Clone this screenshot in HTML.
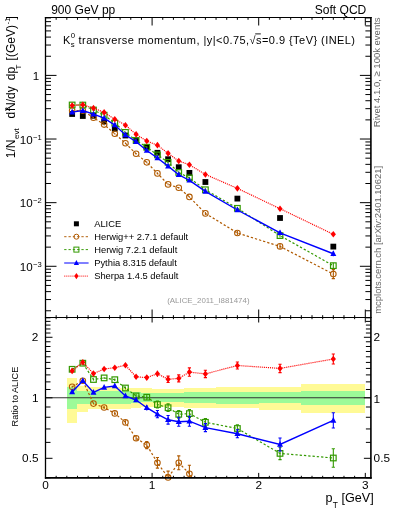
<!DOCTYPE html><html><head><meta charset="utf-8"><style>html,body{margin:0;padding:0;background:#fff;width:393px;height:512px;overflow:hidden}svg{display:block;will-change:transform}text{font-family:"Liberation Sans",sans-serif}</style></head><body>
<svg width="393" height="512" viewBox="0 0 393 512">
<defs><clipPath id="cm"><rect x="45.50" y="17.50" width="325.40" height="300.00"/></clipPath>
<clipPath id="cr"><rect x="45.50" y="317.50" width="325.40" height="160.40"/></clipPath></defs>
<g clip-path="url(#cr)">
<path d="M66.82,377.80 H77.48 V422.70 H66.82 Z M77.48,386.00 H88.14 V411.50 H77.48 Z M88.14,387.40 H98.80 V409.40 H88.14 Z M98.80,387.40 H109.46 V409.40 H98.80 Z M109.46,387.40 H120.12 V409.40 H109.46 Z M120.12,387.60 H130.78 V409.00 H120.12 Z M130.78,388.20 H141.44 V407.80 H130.78 Z M141.44,388.40 H152.10 V407.20 H141.44 Z M152.10,388.60 H162.76 V406.60 H152.10 Z M162.76,388.60 H173.42 V406.60 H162.76 Z M173.42,388.60 H184.08 V406.60 H173.42 Z M184.08,387.60 H194.74 V407.60 H184.08 Z M194.74,388.40 H216.06 V407.60 H194.74 Z M216.06,387.20 H258.70 V408.20 H216.06 Z M258.70,387.40 H301.34 V410.00 H258.70 Z M301.34,383.70 H365.30 V413.30 H301.34 Z " fill="#fffa96" shape-rendering="crispEdges"/>
<path d="M66.82,386.70 H77.48 V409.40 H66.82 Z M77.48,390.80 H88.14 V404.20 H77.48 Z M88.14,391.00 H98.80 V404.00 H88.14 Z M98.80,391.00 H109.46 V404.00 H98.80 Z M109.46,391.00 H120.12 V404.00 H109.46 Z M120.12,391.20 H130.78 V403.80 H120.12 Z M130.78,392.20 H141.44 V402.80 H130.78 Z M141.44,392.60 H152.10 V402.40 H141.44 Z M152.10,392.80 H162.76 V402.00 H152.10 Z M162.76,392.80 H173.42 V402.00 H162.76 Z M173.42,392.80 H184.08 V402.00 H173.42 Z M184.08,392.20 H194.74 V402.80 H184.08 Z M194.74,392.20 H216.06 V403.00 H194.74 Z M216.06,392.00 H258.70 V404.00 H216.06 Z M258.70,391.60 H301.34 V403.20 H258.70 Z M301.34,390.70 H365.30 V404.90 H301.34 Z " fill="#9cfa98" shape-rendering="crispEdges"/>
<line x1="45.50" y1="397.8" x2="370.90" y2="397.8" stroke="#333" stroke-width="1.1"/>
</g>
<rect x="69.25" y="111.10" width="5.8" height="5.8" fill="#000"/>
<rect x="79.91" y="113.10" width="5.8" height="5.8" fill="#000"/>
<rect x="90.57" y="112.90" width="5.8" height="5.8" fill="#000"/>
<rect x="101.23" y="118.60" width="5.8" height="5.8" fill="#000"/>
<rect x="111.89" y="125.90" width="5.8" height="5.8" fill="#000"/>
<rect x="122.55" y="132.60" width="5.8" height="5.8" fill="#000"/>
<rect x="133.21" y="138.10" width="5.8" height="5.8" fill="#000"/>
<rect x="143.87" y="144.50" width="5.8" height="5.8" fill="#000"/>
<rect x="154.53" y="149.90" width="5.8" height="5.8" fill="#000"/>
<rect x="165.19" y="156.30" width="5.8" height="5.8" fill="#000"/>
<rect x="175.85" y="164.30" width="5.8" height="5.8" fill="#000"/>
<rect x="186.51" y="170.00" width="5.8" height="5.8" fill="#000"/>
<rect x="202.50" y="179.10" width="5.8" height="5.8" fill="#000"/>
<rect x="234.48" y="195.70" width="5.8" height="5.8" fill="#000"/>
<rect x="277.12" y="215.10" width="5.8" height="5.8" fill="#000"/>
<rect x="330.42" y="243.70" width="5.8" height="5.8" fill="#000"/>
<path d="M72.15,110.52 L82.81,110.59 L93.47,117.64 L104.13,124.57 L114.79,133.74 L125.45,143.29 L136.11,153.79 L146.77,162.37 L157.43,173.38 L168.09,184.40 L178.75,187.78 L189.41,196.93 L205.40,213.40 L237.38,233.00 L280.02,246.40 L333.32,274.10" fill="none" stroke="#b05a00" stroke-width="1.20" stroke-dasharray="2.3,2" clip-path="url(#cm)"/>
<path d="M72.15,109.72 V111.32" stroke="#b05a00" stroke-width="1.10" fill="none"/>
<circle cx="72.15" cy="110.52" r="2.8" fill="none" stroke="#b05a00" stroke-width="1.05"/>
<path d="M82.81,109.79 V111.39" stroke="#b05a00" stroke-width="1.10" fill="none"/>
<circle cx="82.81" cy="110.59" r="2.8" fill="none" stroke="#b05a00" stroke-width="1.05"/>
<path d="M93.47,116.84 V118.44" stroke="#b05a00" stroke-width="1.10" fill="none"/>
<circle cx="93.47" cy="117.64" r="2.8" fill="none" stroke="#b05a00" stroke-width="1.05"/>
<path d="M104.13,123.77 V125.37" stroke="#b05a00" stroke-width="1.10" fill="none"/>
<circle cx="104.13" cy="124.57" r="2.8" fill="none" stroke="#b05a00" stroke-width="1.05"/>
<path d="M114.79,132.94 V134.54" stroke="#b05a00" stroke-width="1.10" fill="none"/>
<circle cx="114.79" cy="133.74" r="2.8" fill="none" stroke="#b05a00" stroke-width="1.05"/>
<path d="M125.45,142.49 V144.09" stroke="#b05a00" stroke-width="1.10" fill="none"/>
<circle cx="125.45" cy="143.29" r="2.8" fill="none" stroke="#b05a00" stroke-width="1.05"/>
<path d="M136.11,152.99 V154.59" stroke="#b05a00" stroke-width="1.10" fill="none"/>
<circle cx="136.11" cy="153.79" r="2.8" fill="none" stroke="#b05a00" stroke-width="1.05"/>
<path d="M146.77,161.57 V163.17" stroke="#b05a00" stroke-width="1.10" fill="none"/>
<circle cx="146.77" cy="162.37" r="2.8" fill="none" stroke="#b05a00" stroke-width="1.05"/>
<path d="M157.43,172.58 V174.18" stroke="#b05a00" stroke-width="1.10" fill="none"/>
<circle cx="157.43" cy="173.38" r="2.8" fill="none" stroke="#b05a00" stroke-width="1.05"/>
<path d="M168.09,183.60 V185.20" stroke="#b05a00" stroke-width="1.10" fill="none"/>
<circle cx="168.09" cy="184.40" r="2.8" fill="none" stroke="#b05a00" stroke-width="1.05"/>
<path d="M178.75,186.98 V188.58" stroke="#b05a00" stroke-width="1.10" fill="none"/>
<circle cx="178.75" cy="187.78" r="2.8" fill="none" stroke="#b05a00" stroke-width="1.05"/>
<path d="M189.41,196.13 V197.73" stroke="#b05a00" stroke-width="1.10" fill="none"/>
<circle cx="189.41" cy="196.93" r="2.8" fill="none" stroke="#b05a00" stroke-width="1.05"/>
<path d="M205.40,211.90 V214.90" stroke="#b05a00" stroke-width="1.10" fill="none"/>
<circle cx="205.40" cy="213.40" r="2.8" fill="none" stroke="#b05a00" stroke-width="1.05"/>
<path d="M237.38,231.00 V235.00" stroke="#b05a00" stroke-width="1.10" fill="none"/>
<circle cx="237.38" cy="233.00" r="2.8" fill="none" stroke="#b05a00" stroke-width="1.05"/>
<path d="M280.02,243.90 V248.90" stroke="#b05a00" stroke-width="1.10" fill="none"/>
<circle cx="280.02" cy="246.40" r="2.8" fill="none" stroke="#b05a00" stroke-width="1.05"/>
<path d="M333.32,269.60 V278.60 M331.72,269.60 H334.92 M331.72,278.60 H334.92" stroke="#b05a00" stroke-width="1.10" fill="none"/>
<circle cx="333.32" cy="274.10" r="2.8" fill="none" stroke="#b05a00" stroke-width="1.05"/>
<path d="M72.15,104.98 L82.81,105.05 L93.47,110.01 L104.13,115.20 L114.79,123.07 L125.45,132.40 L136.11,140.40 L146.77,147.21 L157.43,154.92 L168.09,162.33 L178.75,172.42 L189.41,177.90 L205.40,189.76 L237.38,208.32 L280.02,235.60 L333.32,265.66" fill="none" stroke="#339900" stroke-width="1.20" stroke-dasharray="2.3,2" clip-path="url(#cm)"/>
<path d="M72.15,104.66 V105.29" stroke="#339900" stroke-width="1.10" fill="none"/>
<rect x="69.35" y="102.18" width="5.6" height="5.6" fill="none" stroke="#339900" stroke-width="1.2"/>
<path d="M82.81,104.73 V105.36" stroke="#339900" stroke-width="1.10" fill="none"/>
<rect x="80.01" y="102.25" width="5.6" height="5.6" fill="none" stroke="#339900" stroke-width="1.2"/>
<path d="M93.47,109.69 V110.32" stroke="#339900" stroke-width="1.10" fill="none"/>
<rect x="90.67" y="107.21" width="5.6" height="5.6" fill="none" stroke="#339900" stroke-width="1.2"/>
<path d="M104.13,114.88 V115.52" stroke="#339900" stroke-width="1.10" fill="none"/>
<rect x="101.33" y="112.40" width="5.6" height="5.6" fill="none" stroke="#339900" stroke-width="1.2"/>
<path d="M114.79,122.69 V123.45" stroke="#339900" stroke-width="1.10" fill="none"/>
<rect x="111.99" y="120.27" width="5.6" height="5.6" fill="none" stroke="#339900" stroke-width="1.2"/>
<path d="M125.45,131.95 V132.84" stroke="#339900" stroke-width="1.10" fill="none"/>
<rect x="122.65" y="129.60" width="5.6" height="5.6" fill="none" stroke="#339900" stroke-width="1.2"/>
<path d="M136.11,139.83 V140.97" stroke="#339900" stroke-width="1.10" fill="none"/>
<rect x="133.31" y="137.60" width="5.6" height="5.6" fill="none" stroke="#339900" stroke-width="1.2"/>
<path d="M146.77,146.36 V148.06" stroke="#339900" stroke-width="1.10" fill="none"/>
<rect x="143.97" y="144.41" width="5.6" height="5.6" fill="none" stroke="#339900" stroke-width="1.2"/>
<path d="M157.43,153.81 V156.03" stroke="#339900" stroke-width="1.10" fill="none"/>
<rect x="154.63" y="152.12" width="5.6" height="5.6" fill="none" stroke="#339900" stroke-width="1.2"/>
<path d="M168.09,161.13 V163.54" stroke="#339900" stroke-width="1.10" fill="none"/>
<rect x="165.29" y="159.53" width="5.6" height="5.6" fill="none" stroke="#339900" stroke-width="1.2"/>
<path d="M178.75,171.22 V173.63" stroke="#339900" stroke-width="1.10" fill="none"/>
<rect x="175.95" y="169.62" width="5.6" height="5.6" fill="none" stroke="#339900" stroke-width="1.2"/>
<path d="M189.41,176.64 V179.17" stroke="#339900" stroke-width="1.10" fill="none"/>
<rect x="186.61" y="175.10" width="5.6" height="5.6" fill="none" stroke="#339900" stroke-width="1.2"/>
<path d="M205.40,188.55 V190.96" stroke="#339900" stroke-width="1.10" fill="none"/>
<rect x="202.60" y="186.96" width="5.6" height="5.6" fill="none" stroke="#339900" stroke-width="1.2"/>
<path d="M237.38,207.12 V209.52" stroke="#339900" stroke-width="1.10" fill="none"/>
<rect x="234.58" y="205.52" width="5.6" height="5.6" fill="none" stroke="#339900" stroke-width="1.2"/>
<path d="M280.02,233.64 V237.56" stroke="#339900" stroke-width="1.10" fill="none"/>
<rect x="277.22" y="232.80" width="5.6" height="5.6" fill="none" stroke="#339900" stroke-width="1.2"/>
<path d="M333.32,262.71 V268.60" stroke="#339900" stroke-width="1.10" fill="none"/>
<rect x="330.52" y="262.86" width="5.6" height="5.6" fill="none" stroke="#339900" stroke-width="1.2"/>
<path d="M72.15,112.13 L82.81,110.59 L93.47,114.09 L104.13,118.21 L114.79,125.06 L125.45,134.90 L136.11,141.70 L146.77,150.53 L157.43,157.96 L168.09,166.16 L178.75,174.77 L189.41,180.31 L205.40,191.43 L237.38,210.00 L280.02,232.78 L333.32,253.75" fill="none" stroke="#0000ff" stroke-width="1.40" clip-path="url(#cm)"/>
<path d="M72.15,111.82 V112.45" stroke="#0000ff" stroke-width="1.10" fill="none"/>
<path d="M72.15,108.73 L75.15,114.43 L69.15,114.43 Z" fill="#0000ff"/>
<path d="M82.81,110.27 V110.90" stroke="#0000ff" stroke-width="1.10" fill="none"/>
<path d="M82.81,107.19 L85.81,112.89 L79.81,112.89 Z" fill="#0000ff"/>
<path d="M93.47,113.77 V114.41" stroke="#0000ff" stroke-width="1.10" fill="none"/>
<path d="M93.47,110.69 L96.47,116.39 L90.47,116.39 Z" fill="#0000ff"/>
<path d="M104.13,117.89 V118.52" stroke="#0000ff" stroke-width="1.10" fill="none"/>
<path d="M104.13,114.81 L107.13,120.51 L101.13,120.51 Z" fill="#0000ff"/>
<path d="M114.79,124.68 V125.44" stroke="#0000ff" stroke-width="1.10" fill="none"/>
<path d="M114.79,121.66 L117.79,127.36 L111.79,127.36 Z" fill="#0000ff"/>
<path d="M125.45,134.46 V135.34" stroke="#0000ff" stroke-width="1.10" fill="none"/>
<path d="M125.45,131.50 L128.45,137.20 L122.45,137.20 Z" fill="#0000ff"/>
<path d="M136.11,141.13 V142.27" stroke="#0000ff" stroke-width="1.10" fill="none"/>
<path d="M136.11,138.30 L139.11,144.00 L133.11,144.00 Z" fill="#0000ff"/>
<path d="M146.77,149.68 V151.39" stroke="#0000ff" stroke-width="1.10" fill="none"/>
<path d="M146.77,147.13 L149.77,152.83 L143.77,152.83 Z" fill="#0000ff"/>
<path d="M157.43,156.82 V159.10" stroke="#0000ff" stroke-width="1.10" fill="none"/>
<path d="M157.43,154.56 L160.43,160.26 L154.43,160.26 Z" fill="#0000ff"/>
<path d="M168.09,164.80 V167.53" stroke="#0000ff" stroke-width="1.10" fill="none"/>
<path d="M168.09,162.76 L171.09,168.46 L165.09,168.46 Z" fill="#0000ff"/>
<path d="M178.75,173.34 V176.19" stroke="#0000ff" stroke-width="1.10" fill="none"/>
<path d="M178.75,171.37 L181.75,177.07 L175.75,177.07 Z" fill="#0000ff"/>
<path d="M189.41,178.72 V181.89" stroke="#0000ff" stroke-width="1.10" fill="none"/>
<path d="M189.41,176.91 L192.41,182.61 L186.41,182.61 Z" fill="#0000ff"/>
<path d="M205.40,190.17 V192.70" stroke="#0000ff" stroke-width="1.10" fill="none"/>
<path d="M205.40,188.03 L208.40,193.73 L202.40,193.73 Z" fill="#0000ff"/>
<path d="M237.38,208.73 V211.26" stroke="#0000ff" stroke-width="1.10" fill="none"/>
<path d="M237.38,206.60 L240.38,212.30 L234.38,212.30 Z" fill="#0000ff"/>
<path d="M280.02,230.73 V234.84" stroke="#0000ff" stroke-width="1.10" fill="none"/>
<path d="M280.02,229.38 L283.02,235.08 L277.02,235.08 Z" fill="#0000ff"/>
<path d="M333.32,251.35 V256.16" stroke="#0000ff" stroke-width="1.10" fill="none"/>
<path d="M333.32,250.35 L336.32,256.05 L330.32,256.05 Z" fill="#0000ff"/>
<path d="M72.15,105.48 L82.81,104.73 L93.47,108.14 L104.13,112.38 L114.79,119.27 L125.45,125.21 L136.11,134.35 L146.77,141.01 L157.43,145.17 L168.09,153.34 L178.75,161.06 L189.41,164.76 L205.40,174.43 L237.38,188.37 L280.02,208.69 L333.32,234.32" fill="none" stroke="#ff0000" stroke-width="1.20" stroke-dasharray="1.1,0.95" clip-path="url(#cm)"/>
<path d="M72.15,105.17 V105.80" stroke="#ff0000" stroke-width="1.10" fill="none"/>
<path d="M72.15,102.18 L74.75,105.48 L72.15,108.78 L69.55,105.48 Z" fill="#ff0000"/>
<path d="M82.81,104.41 V105.05" stroke="#ff0000" stroke-width="1.10" fill="none"/>
<path d="M82.81,101.43 L85.41,104.73 L82.81,108.03 L80.21,104.73 Z" fill="#ff0000"/>
<path d="M93.47,107.82 V108.46" stroke="#ff0000" stroke-width="1.10" fill="none"/>
<path d="M93.47,104.84 L96.07,108.14 L93.47,111.44 L90.87,108.14 Z" fill="#ff0000"/>
<path d="M104.13,112.07 V112.70" stroke="#ff0000" stroke-width="1.10" fill="none"/>
<path d="M104.13,109.08 L106.73,112.38 L104.13,115.68 L101.53,112.38 Z" fill="#ff0000"/>
<path d="M114.79,118.89 V119.65" stroke="#ff0000" stroke-width="1.10" fill="none"/>
<path d="M114.79,115.97 L117.39,119.27 L114.79,122.57 L112.19,119.27 Z" fill="#ff0000"/>
<path d="M125.45,124.77 V125.65" stroke="#ff0000" stroke-width="1.10" fill="none"/>
<path d="M125.45,121.91 L128.05,125.21 L125.45,128.51 L122.85,125.21 Z" fill="#ff0000"/>
<path d="M136.11,133.78 V134.92" stroke="#ff0000" stroke-width="1.10" fill="none"/>
<path d="M136.11,131.05 L138.71,134.35 L136.11,137.65 L133.51,134.35 Z" fill="#ff0000"/>
<path d="M146.77,140.25 V141.77" stroke="#ff0000" stroke-width="1.10" fill="none"/>
<path d="M146.77,137.71 L149.37,141.01 L146.77,144.31 L144.17,141.01 Z" fill="#ff0000"/>
<path d="M157.43,144.22 V146.12" stroke="#ff0000" stroke-width="1.10" fill="none"/>
<path d="M157.43,141.87 L160.03,145.17 L157.43,148.47 L154.83,145.17 Z" fill="#ff0000"/>
<path d="M168.09,152.33 V154.36" stroke="#ff0000" stroke-width="1.10" fill="none"/>
<path d="M168.09,150.04 L170.69,153.34 L168.09,156.64 L165.49,153.34 Z" fill="#ff0000"/>
<path d="M178.75,159.95 V162.17" stroke="#ff0000" stroke-width="1.10" fill="none"/>
<path d="M178.75,157.76 L181.35,161.06 L178.75,164.36 L176.15,161.06 Z" fill="#ff0000"/>
<path d="M189.41,163.43 V166.09" stroke="#ff0000" stroke-width="1.10" fill="none"/>
<path d="M189.41,161.46 L192.01,164.76 L189.41,168.06 L186.81,164.76 Z" fill="#ff0000"/>
<path d="M205.40,173.26 V175.61" stroke="#ff0000" stroke-width="1.10" fill="none"/>
<path d="M205.40,171.13 L208.00,174.43 L205.40,177.73 L202.80,174.43 Z" fill="#ff0000"/>
<path d="M237.38,187.27 V189.48" stroke="#ff0000" stroke-width="1.10" fill="none"/>
<path d="M237.38,185.07 L239.98,188.37 L237.38,191.67 L234.78,188.37 Z" fill="#ff0000"/>
<path d="M280.02,207.36 V210.02" stroke="#ff0000" stroke-width="1.10" fill="none"/>
<path d="M280.02,205.39 L282.62,208.69 L280.02,211.99 L277.42,208.69 Z" fill="#ff0000"/>
<path d="M333.32,232.73 V235.90" stroke="#ff0000" stroke-width="1.10" fill="none"/>
<path d="M333.32,231.02 L335.92,234.32 L333.32,237.62 L330.72,234.32 Z" fill="#ff0000"/>
<path d="M72.15,386.80 L82.81,380.70 L93.47,403.60 L104.13,407.50 L114.79,413.40 L125.45,422.40 L136.11,438.20 L146.77,445.10 L157.43,462.80 L168.09,477.40 L178.75,462.80 L189.41,473.70 L205.40,496.70" fill="none" stroke="#b05a00" stroke-width="1.20" stroke-dasharray="2.3,2" clip-path="url(#cr)"/>
<path d="M72.15,385.80 V387.80" stroke="#b05a00" stroke-width="1.10" fill="none" clip-path="url(#cr)"/>
<circle cx="72.15" cy="386.80" r="2.8" fill="none" stroke="#b05a00" stroke-width="1.05"/>
<path d="M82.81,379.70 V381.70" stroke="#b05a00" stroke-width="1.10" fill="none" clip-path="url(#cr)"/>
<circle cx="82.81" cy="380.70" r="2.8" fill="none" stroke="#b05a00" stroke-width="1.05"/>
<path d="M93.47,402.60 V404.60" stroke="#b05a00" stroke-width="1.10" fill="none" clip-path="url(#cr)"/>
<circle cx="93.47" cy="403.60" r="2.8" fill="none" stroke="#b05a00" stroke-width="1.05"/>
<path d="M104.13,406.10 V408.90" stroke="#b05a00" stroke-width="1.10" fill="none" clip-path="url(#cr)"/>
<circle cx="104.13" cy="407.50" r="2.8" fill="none" stroke="#b05a00" stroke-width="1.05"/>
<path d="M114.79,411.60 V415.20" stroke="#b05a00" stroke-width="1.10" fill="none" clip-path="url(#cr)"/>
<circle cx="114.79" cy="413.40" r="2.8" fill="none" stroke="#b05a00" stroke-width="1.05"/>
<path d="M125.45,420.20 V424.60" stroke="#b05a00" stroke-width="1.10" fill="none" clip-path="url(#cr)"/>
<circle cx="125.45" cy="422.40" r="2.8" fill="none" stroke="#b05a00" stroke-width="1.05"/>
<path d="M136.11,435.60 V440.80" stroke="#b05a00" stroke-width="1.10" fill="none" clip-path="url(#cr)"/>
<circle cx="136.11" cy="438.20" r="2.8" fill="none" stroke="#b05a00" stroke-width="1.05"/>
<path d="M146.77,441.60 V448.60 M145.17,441.60 H148.37 M145.17,448.60 H148.37" stroke="#b05a00" stroke-width="1.10" fill="none" clip-path="url(#cr)"/>
<circle cx="146.77" cy="445.10" r="2.8" fill="none" stroke="#b05a00" stroke-width="1.05"/>
<path d="M157.43,457.50 V468.10 M155.83,457.50 H159.03 M155.83,468.10 H159.03" stroke="#b05a00" stroke-width="1.10" fill="none" clip-path="url(#cr)"/>
<circle cx="157.43" cy="462.80" r="2.8" fill="none" stroke="#b05a00" stroke-width="1.05"/>
<path d="M168.09,471.10 V483.70 M166.49,471.10 H169.69 M166.49,483.70 H169.69" stroke="#b05a00" stroke-width="1.10" fill="none" clip-path="url(#cr)"/>
<circle cx="168.09" cy="477.40" r="2.8" fill="none" stroke="#b05a00" stroke-width="1.05"/>
<path d="M178.75,455.90 V469.70 M177.15,455.90 H180.35 M177.15,469.70 H180.35" stroke="#b05a00" stroke-width="1.10" fill="none" clip-path="url(#cr)"/>
<circle cx="178.75" cy="462.80" r="2.8" fill="none" stroke="#b05a00" stroke-width="1.05"/>
<path d="M189.41,465.20 V482.20 M187.81,465.20 H191.01 M187.81,482.20 H191.01" stroke="#b05a00" stroke-width="1.10" fill="none" clip-path="url(#cr)"/>
<circle cx="189.41" cy="473.70" r="2.8" fill="none" stroke="#b05a00" stroke-width="1.05"/>
<path d="M72.15,369.30 L82.81,363.20 L93.47,379.50 L104.13,377.90 L114.79,379.70 L125.45,388.00 L136.11,395.90 L146.77,397.20 L157.43,404.50 L168.09,407.70 L178.75,414.30 L189.41,413.60 L205.40,422.30 L237.38,428.50 L280.02,453.40 L333.32,458.00" fill="none" stroke="#339900" stroke-width="1.20" stroke-dasharray="2.3,2" clip-path="url(#cr)"/>
<path d="M72.15,368.30 V370.30" stroke="#339900" stroke-width="1.10" fill="none" clip-path="url(#cr)"/>
<rect x="69.35" y="366.50" width="5.6" height="5.6" fill="none" stroke="#339900" stroke-width="1.2"/>
<path d="M82.81,362.20 V364.20" stroke="#339900" stroke-width="1.10" fill="none" clip-path="url(#cr)"/>
<rect x="80.01" y="360.40" width="5.6" height="5.6" fill="none" stroke="#339900" stroke-width="1.2"/>
<path d="M93.47,378.50 V380.50" stroke="#339900" stroke-width="1.10" fill="none" clip-path="url(#cr)"/>
<rect x="90.67" y="376.70" width="5.6" height="5.6" fill="none" stroke="#339900" stroke-width="1.2"/>
<path d="M104.13,376.90 V378.90" stroke="#339900" stroke-width="1.10" fill="none" clip-path="url(#cr)"/>
<rect x="101.33" y="375.10" width="5.6" height="5.6" fill="none" stroke="#339900" stroke-width="1.2"/>
<path d="M114.79,378.50 V380.90" stroke="#339900" stroke-width="1.10" fill="none" clip-path="url(#cr)"/>
<rect x="111.99" y="376.90" width="5.6" height="5.6" fill="none" stroke="#339900" stroke-width="1.2"/>
<path d="M125.45,386.60 V389.40" stroke="#339900" stroke-width="1.10" fill="none" clip-path="url(#cr)"/>
<rect x="122.65" y="385.20" width="5.6" height="5.6" fill="none" stroke="#339900" stroke-width="1.2"/>
<path d="M136.11,394.10 V397.70" stroke="#339900" stroke-width="1.10" fill="none" clip-path="url(#cr)"/>
<rect x="133.31" y="393.10" width="5.6" height="5.6" fill="none" stroke="#339900" stroke-width="1.2"/>
<path d="M146.77,394.50 V399.90" stroke="#339900" stroke-width="1.10" fill="none" clip-path="url(#cr)"/>
<rect x="143.97" y="394.40" width="5.6" height="5.6" fill="none" stroke="#339900" stroke-width="1.2"/>
<path d="M157.43,401.00 V408.00 M155.83,401.00 H159.03 M155.83,408.00 H159.03" stroke="#339900" stroke-width="1.10" fill="none" clip-path="url(#cr)"/>
<rect x="154.63" y="401.70" width="5.6" height="5.6" fill="none" stroke="#339900" stroke-width="1.2"/>
<path d="M168.09,403.90 V411.50 M166.49,403.90 H169.69 M166.49,411.50 H169.69" stroke="#339900" stroke-width="1.10" fill="none" clip-path="url(#cr)"/>
<rect x="165.29" y="404.90" width="5.6" height="5.6" fill="none" stroke="#339900" stroke-width="1.2"/>
<path d="M178.75,410.50 V418.10 M177.15,410.50 H180.35 M177.15,418.10 H180.35" stroke="#339900" stroke-width="1.10" fill="none" clip-path="url(#cr)"/>
<rect x="175.95" y="411.50" width="5.6" height="5.6" fill="none" stroke="#339900" stroke-width="1.2"/>
<path d="M189.41,409.60 V417.60 M187.81,409.60 H191.01 M187.81,417.60 H191.01" stroke="#339900" stroke-width="1.10" fill="none" clip-path="url(#cr)"/>
<rect x="186.61" y="410.80" width="5.6" height="5.6" fill="none" stroke="#339900" stroke-width="1.2"/>
<path d="M205.40,418.50 V426.10 M203.80,418.50 H207.00 M203.80,426.10 H207.00" stroke="#339900" stroke-width="1.10" fill="none" clip-path="url(#cr)"/>
<rect x="202.60" y="419.50" width="5.6" height="5.6" fill="none" stroke="#339900" stroke-width="1.2"/>
<path d="M237.38,424.70 V432.30 M235.78,424.70 H238.98 M235.78,432.30 H238.98" stroke="#339900" stroke-width="1.10" fill="none" clip-path="url(#cr)"/>
<rect x="234.58" y="425.70" width="5.6" height="5.6" fill="none" stroke="#339900" stroke-width="1.2"/>
<path d="M280.02,447.20 V459.60 M278.42,447.20 H281.62 M278.42,459.60 H281.62" stroke="#339900" stroke-width="1.10" fill="none" clip-path="url(#cr)"/>
<rect x="277.22" y="450.60" width="5.6" height="5.6" fill="none" stroke="#339900" stroke-width="1.2"/>
<path d="M333.32,448.70 V467.30 M331.72,448.70 H334.92 M331.72,467.30 H334.92" stroke="#339900" stroke-width="1.10" fill="none" clip-path="url(#cr)"/>
<rect x="330.52" y="455.20" width="5.6" height="5.6" fill="none" stroke="#339900" stroke-width="1.2"/>
<path d="M72.15,391.90 L82.81,380.70 L93.47,392.40 L104.13,387.40 L114.79,386.00 L125.45,395.90 L136.11,400.00 L146.77,407.70 L157.43,414.10 L168.09,419.80 L178.75,421.70 L189.41,421.20 L205.40,427.60 L237.38,433.80 L280.02,444.50 L333.32,420.40" fill="none" stroke="#0000ff" stroke-width="1.40" clip-path="url(#cr)"/>
<path d="M72.15,390.90 V392.90" stroke="#0000ff" stroke-width="1.10" fill="none" clip-path="url(#cr)"/>
<path d="M72.15,388.50 L75.15,394.20 L69.15,394.20 Z" fill="#0000ff"/>
<path d="M82.81,379.70 V381.70" stroke="#0000ff" stroke-width="1.10" fill="none" clip-path="url(#cr)"/>
<path d="M82.81,377.30 L85.81,383.00 L79.81,383.00 Z" fill="#0000ff"/>
<path d="M93.47,391.40 V393.40" stroke="#0000ff" stroke-width="1.10" fill="none" clip-path="url(#cr)"/>
<path d="M93.47,389.00 L96.47,394.70 L90.47,394.70 Z" fill="#0000ff"/>
<path d="M104.13,386.40 V388.40" stroke="#0000ff" stroke-width="1.10" fill="none" clip-path="url(#cr)"/>
<path d="M104.13,384.00 L107.13,389.70 L101.13,389.70 Z" fill="#0000ff"/>
<path d="M114.79,384.80 V387.20" stroke="#0000ff" stroke-width="1.10" fill="none" clip-path="url(#cr)"/>
<path d="M114.79,382.60 L117.79,388.30 L111.79,388.30 Z" fill="#0000ff"/>
<path d="M125.45,394.50 V397.30" stroke="#0000ff" stroke-width="1.10" fill="none" clip-path="url(#cr)"/>
<path d="M125.45,392.50 L128.45,398.20 L122.45,398.20 Z" fill="#0000ff"/>
<path d="M136.11,398.20 V401.80" stroke="#0000ff" stroke-width="1.10" fill="none" clip-path="url(#cr)"/>
<path d="M136.11,396.60 L139.11,402.30 L133.11,402.30 Z" fill="#0000ff"/>
<path d="M146.77,405.00 V410.40" stroke="#0000ff" stroke-width="1.10" fill="none" clip-path="url(#cr)"/>
<path d="M146.77,404.30 L149.77,410.00 L143.77,410.00 Z" fill="#0000ff"/>
<path d="M157.43,410.50 V417.70 M155.83,410.50 H159.03 M155.83,417.70 H159.03" stroke="#0000ff" stroke-width="1.10" fill="none" clip-path="url(#cr)"/>
<path d="M157.43,410.70 L160.43,416.40 L154.43,416.40 Z" fill="#0000ff"/>
<path d="M168.09,415.50 V424.10 M166.49,415.50 H169.69 M166.49,424.10 H169.69" stroke="#0000ff" stroke-width="1.10" fill="none" clip-path="url(#cr)"/>
<path d="M168.09,416.40 L171.09,422.10 L165.09,422.10 Z" fill="#0000ff"/>
<path d="M178.75,417.20 V426.20 M177.15,417.20 H180.35 M177.15,426.20 H180.35" stroke="#0000ff" stroke-width="1.10" fill="none" clip-path="url(#cr)"/>
<path d="M178.75,418.30 L181.75,424.00 L175.75,424.00 Z" fill="#0000ff"/>
<path d="M189.41,416.20 V426.20 M187.81,416.20 H191.01 M187.81,426.20 H191.01" stroke="#0000ff" stroke-width="1.10" fill="none" clip-path="url(#cr)"/>
<path d="M189.41,417.80 L192.41,423.50 L186.41,423.50 Z" fill="#0000ff"/>
<path d="M205.40,423.60 V431.60 M203.80,423.60 H207.00 M203.80,431.60 H207.00" stroke="#0000ff" stroke-width="1.10" fill="none" clip-path="url(#cr)"/>
<path d="M205.40,424.20 L208.40,429.90 L202.40,429.90 Z" fill="#0000ff"/>
<path d="M237.38,429.80 V437.80 M235.78,429.80 H238.98 M235.78,437.80 H238.98" stroke="#0000ff" stroke-width="1.10" fill="none" clip-path="url(#cr)"/>
<path d="M237.38,430.40 L240.38,436.10 L234.38,436.10 Z" fill="#0000ff"/>
<path d="M280.02,438.00 V451.00 M278.42,438.00 H281.62 M278.42,451.00 H281.62" stroke="#0000ff" stroke-width="1.10" fill="none" clip-path="url(#cr)"/>
<path d="M280.02,441.10 L283.02,446.80 L277.02,446.80 Z" fill="#0000ff"/>
<path d="M333.32,412.80 V428.00 M331.72,412.80 H334.92 M331.72,428.00 H334.92" stroke="#0000ff" stroke-width="1.10" fill="none" clip-path="url(#cr)"/>
<path d="M333.32,417.00 L336.32,422.70 L330.32,422.70 Z" fill="#0000ff"/>
<path d="M72.15,370.90 L82.81,362.20 L93.47,373.60 L104.13,369.00 L114.79,367.70 L125.45,365.30 L136.11,376.80 L146.77,377.60 L157.43,373.70 L168.09,379.30 L178.75,378.40 L189.41,372.10 L205.40,373.90 L237.38,365.50 L280.02,368.40 L333.32,359.00" fill="none" stroke="#ff0000" stroke-width="1.20" stroke-dasharray="1.1,0.95" clip-path="url(#cr)"/>
<path d="M72.15,369.90 V371.90" stroke="#ff0000" stroke-width="1.10" fill="none" clip-path="url(#cr)"/>
<path d="M72.15,367.60 L74.75,370.90 L72.15,374.20 L69.55,370.90 Z" fill="#ff0000"/>
<path d="M82.81,361.20 V363.20" stroke="#ff0000" stroke-width="1.10" fill="none" clip-path="url(#cr)"/>
<path d="M82.81,358.90 L85.41,362.20 L82.81,365.50 L80.21,362.20 Z" fill="#ff0000"/>
<path d="M93.47,372.60 V374.60" stroke="#ff0000" stroke-width="1.10" fill="none" clip-path="url(#cr)"/>
<path d="M93.47,370.30 L96.07,373.60 L93.47,376.90 L90.87,373.60 Z" fill="#ff0000"/>
<path d="M104.13,368.00 V370.00" stroke="#ff0000" stroke-width="1.10" fill="none" clip-path="url(#cr)"/>
<path d="M104.13,365.70 L106.73,369.00 L104.13,372.30 L101.53,369.00 Z" fill="#ff0000"/>
<path d="M114.79,366.50 V368.90" stroke="#ff0000" stroke-width="1.10" fill="none" clip-path="url(#cr)"/>
<path d="M114.79,364.40 L117.39,367.70 L114.79,371.00 L112.19,367.70 Z" fill="#ff0000"/>
<path d="M125.45,363.90 V366.70" stroke="#ff0000" stroke-width="1.10" fill="none" clip-path="url(#cr)"/>
<path d="M125.45,362.00 L128.05,365.30 L125.45,368.60 L122.85,365.30 Z" fill="#ff0000"/>
<path d="M136.11,375.00 V378.60" stroke="#ff0000" stroke-width="1.10" fill="none" clip-path="url(#cr)"/>
<path d="M136.11,373.50 L138.71,376.80 L136.11,380.10 L133.51,376.80 Z" fill="#ff0000"/>
<path d="M146.77,375.20 V380.00" stroke="#ff0000" stroke-width="1.10" fill="none" clip-path="url(#cr)"/>
<path d="M146.77,374.30 L149.37,377.60 L146.77,380.90 L144.17,377.60 Z" fill="#ff0000"/>
<path d="M157.43,370.70 V376.70" stroke="#ff0000" stroke-width="1.10" fill="none" clip-path="url(#cr)"/>
<path d="M157.43,370.40 L160.03,373.70 L157.43,377.00 L154.83,373.70 Z" fill="#ff0000"/>
<path d="M168.09,376.10 V382.50 M166.49,376.10 H169.69 M166.49,382.50 H169.69" stroke="#ff0000" stroke-width="1.10" fill="none" clip-path="url(#cr)"/>
<path d="M168.09,376.00 L170.69,379.30 L168.09,382.60 L165.49,379.30 Z" fill="#ff0000"/>
<path d="M178.75,374.90 V381.90 M177.15,374.90 H180.35 M177.15,381.90 H180.35" stroke="#ff0000" stroke-width="1.10" fill="none" clip-path="url(#cr)"/>
<path d="M178.75,375.10 L181.35,378.40 L178.75,381.70 L176.15,378.40 Z" fill="#ff0000"/>
<path d="M189.41,367.90 V376.30 M187.81,367.90 H191.01 M187.81,376.30 H191.01" stroke="#ff0000" stroke-width="1.10" fill="none" clip-path="url(#cr)"/>
<path d="M189.41,368.80 L192.01,372.10 L189.41,375.40 L186.81,372.10 Z" fill="#ff0000"/>
<path d="M205.40,370.20 V377.60 M203.80,370.20 H207.00 M203.80,377.60 H207.00" stroke="#ff0000" stroke-width="1.10" fill="none" clip-path="url(#cr)"/>
<path d="M205.40,370.60 L208.00,373.90 L205.40,377.20 L202.80,373.90 Z" fill="#ff0000"/>
<path d="M237.38,362.00 V369.00 M235.78,362.00 H238.98 M235.78,369.00 H238.98" stroke="#ff0000" stroke-width="1.10" fill="none" clip-path="url(#cr)"/>
<path d="M237.38,362.20 L239.98,365.50 L237.38,368.80 L234.78,365.50 Z" fill="#ff0000"/>
<path d="M280.02,364.20 V372.60 M278.42,364.20 H281.62 M278.42,372.60 H281.62" stroke="#ff0000" stroke-width="1.10" fill="none" clip-path="url(#cr)"/>
<path d="M280.02,365.10 L282.62,368.40 L280.02,371.70 L277.42,368.40 Z" fill="#ff0000"/>
<path d="M333.32,354.00 V364.00 M331.72,354.00 H334.92 M331.72,364.00 H334.92" stroke="#ff0000" stroke-width="1.10" fill="none" clip-path="url(#cr)"/>
<path d="M333.32,355.70 L335.92,359.00 L333.32,362.30 L330.72,359.00 Z" fill="#ff0000"/>
<line x1="45.50" y1="17.50" x2="45.50" y2="25.50" stroke="#000" stroke-width="1.00"/><line x1="45.50" y1="317.50" x2="45.50" y2="309.50" stroke="#000" stroke-width="1.00"/><line x1="45.50" y1="317.50" x2="45.50" y2="322.50" stroke="#000" stroke-width="1.00"/><line x1="45.50" y1="477.90" x2="45.50" y2="472.90" stroke="#000" stroke-width="1.00"/><line x1="56.16" y1="17.50" x2="56.16" y2="19.80" stroke="#000" stroke-width="1.00"/><line x1="56.16" y1="317.50" x2="56.16" y2="315.20" stroke="#000" stroke-width="1.00"/><line x1="56.16" y1="317.50" x2="56.16" y2="319.20" stroke="#000" stroke-width="1.00"/><line x1="56.16" y1="477.90" x2="56.16" y2="475.80" stroke="#000" stroke-width="1.00"/><line x1="66.82" y1="17.50" x2="66.82" y2="19.80" stroke="#000" stroke-width="1.00"/><line x1="66.82" y1="317.50" x2="66.82" y2="315.20" stroke="#000" stroke-width="1.00"/><line x1="66.82" y1="317.50" x2="66.82" y2="319.20" stroke="#000" stroke-width="1.00"/><line x1="66.82" y1="477.90" x2="66.82" y2="475.80" stroke="#000" stroke-width="1.00"/><line x1="77.48" y1="17.50" x2="77.48" y2="19.80" stroke="#000" stroke-width="1.00"/><line x1="77.48" y1="317.50" x2="77.48" y2="315.20" stroke="#000" stroke-width="1.00"/><line x1="77.48" y1="317.50" x2="77.48" y2="319.20" stroke="#000" stroke-width="1.00"/><line x1="77.48" y1="477.90" x2="77.48" y2="475.80" stroke="#000" stroke-width="1.00"/><line x1="88.14" y1="17.50" x2="88.14" y2="19.80" stroke="#000" stroke-width="1.00"/><line x1="88.14" y1="317.50" x2="88.14" y2="315.20" stroke="#000" stroke-width="1.00"/><line x1="88.14" y1="317.50" x2="88.14" y2="319.20" stroke="#000" stroke-width="1.00"/><line x1="88.14" y1="477.90" x2="88.14" y2="475.80" stroke="#000" stroke-width="1.00"/><line x1="98.80" y1="17.50" x2="98.80" y2="19.80" stroke="#000" stroke-width="1.00"/><line x1="98.80" y1="317.50" x2="98.80" y2="315.20" stroke="#000" stroke-width="1.00"/><line x1="98.80" y1="317.50" x2="98.80" y2="319.20" stroke="#000" stroke-width="1.00"/><line x1="98.80" y1="477.90" x2="98.80" y2="475.80" stroke="#000" stroke-width="1.00"/><line x1="109.46" y1="17.50" x2="109.46" y2="19.80" stroke="#000" stroke-width="1.00"/><line x1="109.46" y1="317.50" x2="109.46" y2="315.20" stroke="#000" stroke-width="1.00"/><line x1="109.46" y1="317.50" x2="109.46" y2="319.20" stroke="#000" stroke-width="1.00"/><line x1="109.46" y1="477.90" x2="109.46" y2="475.80" stroke="#000" stroke-width="1.00"/><line x1="120.12" y1="17.50" x2="120.12" y2="19.80" stroke="#000" stroke-width="1.00"/><line x1="120.12" y1="317.50" x2="120.12" y2="315.20" stroke="#000" stroke-width="1.00"/><line x1="120.12" y1="317.50" x2="120.12" y2="319.20" stroke="#000" stroke-width="1.00"/><line x1="120.12" y1="477.90" x2="120.12" y2="475.80" stroke="#000" stroke-width="1.00"/><line x1="130.78" y1="17.50" x2="130.78" y2="19.80" stroke="#000" stroke-width="1.00"/><line x1="130.78" y1="317.50" x2="130.78" y2="315.20" stroke="#000" stroke-width="1.00"/><line x1="130.78" y1="317.50" x2="130.78" y2="319.20" stroke="#000" stroke-width="1.00"/><line x1="130.78" y1="477.90" x2="130.78" y2="475.80" stroke="#000" stroke-width="1.00"/><line x1="141.44" y1="17.50" x2="141.44" y2="19.80" stroke="#000" stroke-width="1.00"/><line x1="141.44" y1="317.50" x2="141.44" y2="315.20" stroke="#000" stroke-width="1.00"/><line x1="141.44" y1="317.50" x2="141.44" y2="319.20" stroke="#000" stroke-width="1.00"/><line x1="141.44" y1="477.90" x2="141.44" y2="475.80" stroke="#000" stroke-width="1.00"/><line x1="152.10" y1="17.50" x2="152.10" y2="25.50" stroke="#000" stroke-width="1.00"/><line x1="152.10" y1="317.50" x2="152.10" y2="309.50" stroke="#000" stroke-width="1.00"/><line x1="152.10" y1="317.50" x2="152.10" y2="322.50" stroke="#000" stroke-width="1.00"/><line x1="152.10" y1="477.90" x2="152.10" y2="472.90" stroke="#000" stroke-width="1.00"/><line x1="162.76" y1="17.50" x2="162.76" y2="19.80" stroke="#000" stroke-width="1.00"/><line x1="162.76" y1="317.50" x2="162.76" y2="315.20" stroke="#000" stroke-width="1.00"/><line x1="162.76" y1="317.50" x2="162.76" y2="319.20" stroke="#000" stroke-width="1.00"/><line x1="162.76" y1="477.90" x2="162.76" y2="475.80" stroke="#000" stroke-width="1.00"/><line x1="173.42" y1="17.50" x2="173.42" y2="19.80" stroke="#000" stroke-width="1.00"/><line x1="173.42" y1="317.50" x2="173.42" y2="315.20" stroke="#000" stroke-width="1.00"/><line x1="173.42" y1="317.50" x2="173.42" y2="319.20" stroke="#000" stroke-width="1.00"/><line x1="173.42" y1="477.90" x2="173.42" y2="475.80" stroke="#000" stroke-width="1.00"/><line x1="184.08" y1="17.50" x2="184.08" y2="19.80" stroke="#000" stroke-width="1.00"/><line x1="184.08" y1="317.50" x2="184.08" y2="315.20" stroke="#000" stroke-width="1.00"/><line x1="184.08" y1="317.50" x2="184.08" y2="319.20" stroke="#000" stroke-width="1.00"/><line x1="184.08" y1="477.90" x2="184.08" y2="475.80" stroke="#000" stroke-width="1.00"/><line x1="194.74" y1="17.50" x2="194.74" y2="19.80" stroke="#000" stroke-width="1.00"/><line x1="194.74" y1="317.50" x2="194.74" y2="315.20" stroke="#000" stroke-width="1.00"/><line x1="194.74" y1="317.50" x2="194.74" y2="319.20" stroke="#000" stroke-width="1.00"/><line x1="194.74" y1="477.90" x2="194.74" y2="475.80" stroke="#000" stroke-width="1.00"/><line x1="205.40" y1="17.50" x2="205.40" y2="19.80" stroke="#000" stroke-width="1.00"/><line x1="205.40" y1="317.50" x2="205.40" y2="315.20" stroke="#000" stroke-width="1.00"/><line x1="205.40" y1="317.50" x2="205.40" y2="319.20" stroke="#000" stroke-width="1.00"/><line x1="205.40" y1="477.90" x2="205.40" y2="475.80" stroke="#000" stroke-width="1.00"/><line x1="216.06" y1="17.50" x2="216.06" y2="19.80" stroke="#000" stroke-width="1.00"/><line x1="216.06" y1="317.50" x2="216.06" y2="315.20" stroke="#000" stroke-width="1.00"/><line x1="216.06" y1="317.50" x2="216.06" y2="319.20" stroke="#000" stroke-width="1.00"/><line x1="216.06" y1="477.90" x2="216.06" y2="475.80" stroke="#000" stroke-width="1.00"/><line x1="226.72" y1="17.50" x2="226.72" y2="19.80" stroke="#000" stroke-width="1.00"/><line x1="226.72" y1="317.50" x2="226.72" y2="315.20" stroke="#000" stroke-width="1.00"/><line x1="226.72" y1="317.50" x2="226.72" y2="319.20" stroke="#000" stroke-width="1.00"/><line x1="226.72" y1="477.90" x2="226.72" y2="475.80" stroke="#000" stroke-width="1.00"/><line x1="237.38" y1="17.50" x2="237.38" y2="19.80" stroke="#000" stroke-width="1.00"/><line x1="237.38" y1="317.50" x2="237.38" y2="315.20" stroke="#000" stroke-width="1.00"/><line x1="237.38" y1="317.50" x2="237.38" y2="319.20" stroke="#000" stroke-width="1.00"/><line x1="237.38" y1="477.90" x2="237.38" y2="475.80" stroke="#000" stroke-width="1.00"/><line x1="248.04" y1="17.50" x2="248.04" y2="19.80" stroke="#000" stroke-width="1.00"/><line x1="248.04" y1="317.50" x2="248.04" y2="315.20" stroke="#000" stroke-width="1.00"/><line x1="248.04" y1="317.50" x2="248.04" y2="319.20" stroke="#000" stroke-width="1.00"/><line x1="248.04" y1="477.90" x2="248.04" y2="475.80" stroke="#000" stroke-width="1.00"/><line x1="258.70" y1="17.50" x2="258.70" y2="25.50" stroke="#000" stroke-width="1.00"/><line x1="258.70" y1="317.50" x2="258.70" y2="309.50" stroke="#000" stroke-width="1.00"/><line x1="258.70" y1="317.50" x2="258.70" y2="322.50" stroke="#000" stroke-width="1.00"/><line x1="258.70" y1="477.90" x2="258.70" y2="472.90" stroke="#000" stroke-width="1.00"/><line x1="269.36" y1="17.50" x2="269.36" y2="19.80" stroke="#000" stroke-width="1.00"/><line x1="269.36" y1="317.50" x2="269.36" y2="315.20" stroke="#000" stroke-width="1.00"/><line x1="269.36" y1="317.50" x2="269.36" y2="319.20" stroke="#000" stroke-width="1.00"/><line x1="269.36" y1="477.90" x2="269.36" y2="475.80" stroke="#000" stroke-width="1.00"/><line x1="280.02" y1="17.50" x2="280.02" y2="19.80" stroke="#000" stroke-width="1.00"/><line x1="280.02" y1="317.50" x2="280.02" y2="315.20" stroke="#000" stroke-width="1.00"/><line x1="280.02" y1="317.50" x2="280.02" y2="319.20" stroke="#000" stroke-width="1.00"/><line x1="280.02" y1="477.90" x2="280.02" y2="475.80" stroke="#000" stroke-width="1.00"/><line x1="290.68" y1="17.50" x2="290.68" y2="19.80" stroke="#000" stroke-width="1.00"/><line x1="290.68" y1="317.50" x2="290.68" y2="315.20" stroke="#000" stroke-width="1.00"/><line x1="290.68" y1="317.50" x2="290.68" y2="319.20" stroke="#000" stroke-width="1.00"/><line x1="290.68" y1="477.90" x2="290.68" y2="475.80" stroke="#000" stroke-width="1.00"/><line x1="301.34" y1="17.50" x2="301.34" y2="19.80" stroke="#000" stroke-width="1.00"/><line x1="301.34" y1="317.50" x2="301.34" y2="315.20" stroke="#000" stroke-width="1.00"/><line x1="301.34" y1="317.50" x2="301.34" y2="319.20" stroke="#000" stroke-width="1.00"/><line x1="301.34" y1="477.90" x2="301.34" y2="475.80" stroke="#000" stroke-width="1.00"/><line x1="312.00" y1="17.50" x2="312.00" y2="19.80" stroke="#000" stroke-width="1.00"/><line x1="312.00" y1="317.50" x2="312.00" y2="315.20" stroke="#000" stroke-width="1.00"/><line x1="312.00" y1="317.50" x2="312.00" y2="319.20" stroke="#000" stroke-width="1.00"/><line x1="312.00" y1="477.90" x2="312.00" y2="475.80" stroke="#000" stroke-width="1.00"/><line x1="322.66" y1="17.50" x2="322.66" y2="19.80" stroke="#000" stroke-width="1.00"/><line x1="322.66" y1="317.50" x2="322.66" y2="315.20" stroke="#000" stroke-width="1.00"/><line x1="322.66" y1="317.50" x2="322.66" y2="319.20" stroke="#000" stroke-width="1.00"/><line x1="322.66" y1="477.90" x2="322.66" y2="475.80" stroke="#000" stroke-width="1.00"/><line x1="333.32" y1="17.50" x2="333.32" y2="19.80" stroke="#000" stroke-width="1.00"/><line x1="333.32" y1="317.50" x2="333.32" y2="315.20" stroke="#000" stroke-width="1.00"/><line x1="333.32" y1="317.50" x2="333.32" y2="319.20" stroke="#000" stroke-width="1.00"/><line x1="333.32" y1="477.90" x2="333.32" y2="475.80" stroke="#000" stroke-width="1.00"/><line x1="343.98" y1="17.50" x2="343.98" y2="19.80" stroke="#000" stroke-width="1.00"/><line x1="343.98" y1="317.50" x2="343.98" y2="315.20" stroke="#000" stroke-width="1.00"/><line x1="343.98" y1="317.50" x2="343.98" y2="319.20" stroke="#000" stroke-width="1.00"/><line x1="343.98" y1="477.90" x2="343.98" y2="475.80" stroke="#000" stroke-width="1.00"/><line x1="354.64" y1="17.50" x2="354.64" y2="19.80" stroke="#000" stroke-width="1.00"/><line x1="354.64" y1="317.50" x2="354.64" y2="315.20" stroke="#000" stroke-width="1.00"/><line x1="354.64" y1="317.50" x2="354.64" y2="319.20" stroke="#000" stroke-width="1.00"/><line x1="354.64" y1="477.90" x2="354.64" y2="475.80" stroke="#000" stroke-width="1.00"/><line x1="365.30" y1="17.50" x2="365.30" y2="25.50" stroke="#000" stroke-width="1.00"/><line x1="365.30" y1="317.50" x2="365.30" y2="309.50" stroke="#000" stroke-width="1.00"/><line x1="365.30" y1="317.50" x2="365.30" y2="322.50" stroke="#000" stroke-width="1.00"/><line x1="365.30" y1="477.90" x2="365.30" y2="472.90" stroke="#000" stroke-width="1.00"/><line x1="45.50" y1="310.77" x2="51.00" y2="310.77" stroke="#000" stroke-width="1.00"/><line x1="370.90" y1="310.77" x2="365.40" y2="310.77" stroke="#000" stroke-width="1.00"/><line x1="45.50" y1="299.56" x2="51.00" y2="299.56" stroke="#000" stroke-width="1.00"/><line x1="370.90" y1="299.56" x2="365.40" y2="299.56" stroke="#000" stroke-width="1.00"/><line x1="45.50" y1="291.61" x2="51.00" y2="291.61" stroke="#000" stroke-width="1.00"/><line x1="370.90" y1="291.61" x2="365.40" y2="291.61" stroke="#000" stroke-width="1.00"/><line x1="45.50" y1="285.44" x2="51.00" y2="285.44" stroke="#000" stroke-width="1.00"/><line x1="370.90" y1="285.44" x2="365.40" y2="285.44" stroke="#000" stroke-width="1.00"/><line x1="45.50" y1="280.41" x2="51.00" y2="280.41" stroke="#000" stroke-width="1.00"/><line x1="370.90" y1="280.41" x2="365.40" y2="280.41" stroke="#000" stroke-width="1.00"/><line x1="45.50" y1="276.15" x2="51.00" y2="276.15" stroke="#000" stroke-width="1.00"/><line x1="370.90" y1="276.15" x2="365.40" y2="276.15" stroke="#000" stroke-width="1.00"/><line x1="45.50" y1="272.46" x2="51.00" y2="272.46" stroke="#000" stroke-width="1.00"/><line x1="370.90" y1="272.46" x2="365.40" y2="272.46" stroke="#000" stroke-width="1.00"/><line x1="45.50" y1="269.20" x2="51.00" y2="269.20" stroke="#000" stroke-width="1.00"/><line x1="370.90" y1="269.20" x2="365.40" y2="269.20" stroke="#000" stroke-width="1.00"/><line x1="45.50" y1="266.29" x2="56.50" y2="266.29" stroke="#000" stroke-width="1.00"/><line x1="370.90" y1="266.29" x2="359.90" y2="266.29" stroke="#000" stroke-width="1.00"/><line x1="45.50" y1="247.14" x2="51.00" y2="247.14" stroke="#000" stroke-width="1.00"/><line x1="370.90" y1="247.14" x2="365.40" y2="247.14" stroke="#000" stroke-width="1.00"/><line x1="45.50" y1="235.93" x2="51.00" y2="235.93" stroke="#000" stroke-width="1.00"/><line x1="370.90" y1="235.93" x2="365.40" y2="235.93" stroke="#000" stroke-width="1.00"/><line x1="45.50" y1="227.98" x2="51.00" y2="227.98" stroke="#000" stroke-width="1.00"/><line x1="370.90" y1="227.98" x2="365.40" y2="227.98" stroke="#000" stroke-width="1.00"/><line x1="45.50" y1="221.81" x2="51.00" y2="221.81" stroke="#000" stroke-width="1.00"/><line x1="370.90" y1="221.81" x2="365.40" y2="221.81" stroke="#000" stroke-width="1.00"/><line x1="45.50" y1="216.78" x2="51.00" y2="216.78" stroke="#000" stroke-width="1.00"/><line x1="370.90" y1="216.78" x2="365.40" y2="216.78" stroke="#000" stroke-width="1.00"/><line x1="45.50" y1="212.52" x2="51.00" y2="212.52" stroke="#000" stroke-width="1.00"/><line x1="370.90" y1="212.52" x2="365.40" y2="212.52" stroke="#000" stroke-width="1.00"/><line x1="45.50" y1="208.83" x2="51.00" y2="208.83" stroke="#000" stroke-width="1.00"/><line x1="370.90" y1="208.83" x2="365.40" y2="208.83" stroke="#000" stroke-width="1.00"/><line x1="45.50" y1="205.57" x2="51.00" y2="205.57" stroke="#000" stroke-width="1.00"/><line x1="370.90" y1="205.57" x2="365.40" y2="205.57" stroke="#000" stroke-width="1.00"/><line x1="45.50" y1="202.66" x2="56.50" y2="202.66" stroke="#000" stroke-width="1.00"/><line x1="370.90" y1="202.66" x2="359.90" y2="202.66" stroke="#000" stroke-width="1.00"/><line x1="45.50" y1="183.51" x2="51.00" y2="183.51" stroke="#000" stroke-width="1.00"/><line x1="370.90" y1="183.51" x2="365.40" y2="183.51" stroke="#000" stroke-width="1.00"/><line x1="45.50" y1="172.30" x2="51.00" y2="172.30" stroke="#000" stroke-width="1.00"/><line x1="370.90" y1="172.30" x2="365.40" y2="172.30" stroke="#000" stroke-width="1.00"/><line x1="45.50" y1="164.35" x2="51.00" y2="164.35" stroke="#000" stroke-width="1.00"/><line x1="370.90" y1="164.35" x2="365.40" y2="164.35" stroke="#000" stroke-width="1.00"/><line x1="45.50" y1="158.18" x2="51.00" y2="158.18" stroke="#000" stroke-width="1.00"/><line x1="370.90" y1="158.18" x2="365.40" y2="158.18" stroke="#000" stroke-width="1.00"/><line x1="45.50" y1="153.15" x2="51.00" y2="153.15" stroke="#000" stroke-width="1.00"/><line x1="370.90" y1="153.15" x2="365.40" y2="153.15" stroke="#000" stroke-width="1.00"/><line x1="45.50" y1="148.89" x2="51.00" y2="148.89" stroke="#000" stroke-width="1.00"/><line x1="370.90" y1="148.89" x2="365.40" y2="148.89" stroke="#000" stroke-width="1.00"/><line x1="45.50" y1="145.20" x2="51.00" y2="145.20" stroke="#000" stroke-width="1.00"/><line x1="370.90" y1="145.20" x2="365.40" y2="145.20" stroke="#000" stroke-width="1.00"/><line x1="45.50" y1="141.94" x2="51.00" y2="141.94" stroke="#000" stroke-width="1.00"/><line x1="370.90" y1="141.94" x2="365.40" y2="141.94" stroke="#000" stroke-width="1.00"/><line x1="45.50" y1="139.03" x2="56.50" y2="139.03" stroke="#000" stroke-width="1.00"/><line x1="370.90" y1="139.03" x2="359.90" y2="139.03" stroke="#000" stroke-width="1.00"/><line x1="45.50" y1="119.88" x2="51.00" y2="119.88" stroke="#000" stroke-width="1.00"/><line x1="370.90" y1="119.88" x2="365.40" y2="119.88" stroke="#000" stroke-width="1.00"/><line x1="45.50" y1="108.67" x2="51.00" y2="108.67" stroke="#000" stroke-width="1.00"/><line x1="370.90" y1="108.67" x2="365.40" y2="108.67" stroke="#000" stroke-width="1.00"/><line x1="45.50" y1="100.72" x2="51.00" y2="100.72" stroke="#000" stroke-width="1.00"/><line x1="370.90" y1="100.72" x2="365.40" y2="100.72" stroke="#000" stroke-width="1.00"/><line x1="45.50" y1="94.55" x2="51.00" y2="94.55" stroke="#000" stroke-width="1.00"/><line x1="370.90" y1="94.55" x2="365.40" y2="94.55" stroke="#000" stroke-width="1.00"/><line x1="45.50" y1="89.52" x2="51.00" y2="89.52" stroke="#000" stroke-width="1.00"/><line x1="370.90" y1="89.52" x2="365.40" y2="89.52" stroke="#000" stroke-width="1.00"/><line x1="45.50" y1="85.26" x2="51.00" y2="85.26" stroke="#000" stroke-width="1.00"/><line x1="370.90" y1="85.26" x2="365.40" y2="85.26" stroke="#000" stroke-width="1.00"/><line x1="45.50" y1="81.57" x2="51.00" y2="81.57" stroke="#000" stroke-width="1.00"/><line x1="370.90" y1="81.57" x2="365.40" y2="81.57" stroke="#000" stroke-width="1.00"/><line x1="45.50" y1="78.31" x2="51.00" y2="78.31" stroke="#000" stroke-width="1.00"/><line x1="370.90" y1="78.31" x2="365.40" y2="78.31" stroke="#000" stroke-width="1.00"/><line x1="45.50" y1="75.40" x2="56.50" y2="75.40" stroke="#000" stroke-width="1.00"/><line x1="370.90" y1="75.40" x2="359.90" y2="75.40" stroke="#000" stroke-width="1.00"/><line x1="45.50" y1="56.25" x2="51.00" y2="56.25" stroke="#000" stroke-width="1.00"/><line x1="370.90" y1="56.25" x2="365.40" y2="56.25" stroke="#000" stroke-width="1.00"/><line x1="45.50" y1="45.04" x2="51.00" y2="45.04" stroke="#000" stroke-width="1.00"/><line x1="370.90" y1="45.04" x2="365.40" y2="45.04" stroke="#000" stroke-width="1.00"/><line x1="45.50" y1="37.09" x2="51.00" y2="37.09" stroke="#000" stroke-width="1.00"/><line x1="370.90" y1="37.09" x2="365.40" y2="37.09" stroke="#000" stroke-width="1.00"/><line x1="45.50" y1="30.92" x2="51.00" y2="30.92" stroke="#000" stroke-width="1.00"/><line x1="370.90" y1="30.92" x2="365.40" y2="30.92" stroke="#000" stroke-width="1.00"/><line x1="45.50" y1="25.89" x2="51.00" y2="25.89" stroke="#000" stroke-width="1.00"/><line x1="370.90" y1="25.89" x2="365.40" y2="25.89" stroke="#000" stroke-width="1.00"/><line x1="45.50" y1="21.63" x2="51.00" y2="21.63" stroke="#000" stroke-width="1.00"/><line x1="370.90" y1="21.63" x2="365.40" y2="21.63" stroke="#000" stroke-width="1.00"/><line x1="45.50" y1="17.94" x2="51.00" y2="17.94" stroke="#000" stroke-width="1.00"/><line x1="370.90" y1="17.94" x2="365.40" y2="17.94" stroke="#000" stroke-width="1.00"/><line x1="45.50" y1="477.79" x2="50.50" y2="477.79" stroke="#000" stroke-width="1.00"/><line x1="370.90" y1="477.79" x2="365.90" y2="477.79" stroke="#000" stroke-width="1.00"/><line x1="45.50" y1="458.31" x2="52.50" y2="458.31" stroke="#000" stroke-width="1.00"/><line x1="370.90" y1="458.31" x2="363.90" y2="458.31" stroke="#000" stroke-width="1.00"/><line x1="45.50" y1="442.39" x2="50.50" y2="442.39" stroke="#000" stroke-width="1.00"/><line x1="370.90" y1="442.39" x2="365.90" y2="442.39" stroke="#000" stroke-width="1.00"/><line x1="45.50" y1="428.94" x2="50.50" y2="428.94" stroke="#000" stroke-width="1.00"/><line x1="370.90" y1="428.94" x2="365.90" y2="428.94" stroke="#000" stroke-width="1.00"/><line x1="45.50" y1="417.28" x2="50.50" y2="417.28" stroke="#000" stroke-width="1.00"/><line x1="370.90" y1="417.28" x2="365.90" y2="417.28" stroke="#000" stroke-width="1.00"/><line x1="45.50" y1="407.00" x2="50.50" y2="407.00" stroke="#000" stroke-width="1.00"/><line x1="370.90" y1="407.00" x2="365.90" y2="407.00" stroke="#000" stroke-width="1.00"/><line x1="45.50" y1="397.80" x2="52.50" y2="397.80" stroke="#000" stroke-width="1.00"/><line x1="370.90" y1="397.80" x2="363.90" y2="397.80" stroke="#000" stroke-width="1.00"/><line x1="45.50" y1="389.48" x2="50.50" y2="389.48" stroke="#000" stroke-width="1.00"/><line x1="370.90" y1="389.48" x2="365.90" y2="389.48" stroke="#000" stroke-width="1.00"/><line x1="45.50" y1="381.88" x2="50.50" y2="381.88" stroke="#000" stroke-width="1.00"/><line x1="370.90" y1="381.88" x2="365.90" y2="381.88" stroke="#000" stroke-width="1.00"/><line x1="45.50" y1="374.90" x2="50.50" y2="374.90" stroke="#000" stroke-width="1.00"/><line x1="370.90" y1="374.90" x2="365.90" y2="374.90" stroke="#000" stroke-width="1.00"/><line x1="45.50" y1="368.43" x2="50.50" y2="368.43" stroke="#000" stroke-width="1.00"/><line x1="370.90" y1="368.43" x2="365.90" y2="368.43" stroke="#000" stroke-width="1.00"/><line x1="45.50" y1="362.41" x2="50.50" y2="362.41" stroke="#000" stroke-width="1.00"/><line x1="370.90" y1="362.41" x2="365.90" y2="362.41" stroke="#000" stroke-width="1.00"/><line x1="45.50" y1="356.77" x2="50.50" y2="356.77" stroke="#000" stroke-width="1.00"/><line x1="370.90" y1="356.77" x2="365.90" y2="356.77" stroke="#000" stroke-width="1.00"/><line x1="45.50" y1="351.48" x2="50.50" y2="351.48" stroke="#000" stroke-width="1.00"/><line x1="370.90" y1="351.48" x2="365.90" y2="351.48" stroke="#000" stroke-width="1.00"/><line x1="45.50" y1="346.49" x2="50.50" y2="346.49" stroke="#000" stroke-width="1.00"/><line x1="370.90" y1="346.49" x2="365.90" y2="346.49" stroke="#000" stroke-width="1.00"/><line x1="45.50" y1="341.77" x2="50.50" y2="341.77" stroke="#000" stroke-width="1.00"/><line x1="370.90" y1="341.77" x2="365.90" y2="341.77" stroke="#000" stroke-width="1.00"/><line x1="45.50" y1="337.29" x2="52.50" y2="337.29" stroke="#000" stroke-width="1.00"/><line x1="370.90" y1="337.29" x2="363.90" y2="337.29" stroke="#000" stroke-width="1.00"/><line x1="45.50" y1="333.03" x2="50.50" y2="333.03" stroke="#000" stroke-width="1.00"/><line x1="370.90" y1="333.03" x2="365.90" y2="333.03" stroke="#000" stroke-width="1.00"/><line x1="45.50" y1="328.97" x2="50.50" y2="328.97" stroke="#000" stroke-width="1.00"/><line x1="370.90" y1="328.97" x2="365.90" y2="328.97" stroke="#000" stroke-width="1.00"/><line x1="45.50" y1="325.09" x2="50.50" y2="325.09" stroke="#000" stroke-width="1.00"/><line x1="370.90" y1="325.09" x2="365.90" y2="325.09" stroke="#000" stroke-width="1.00"/><line x1="45.50" y1="321.38" x2="50.50" y2="321.38" stroke="#000" stroke-width="1.00"/><line x1="370.90" y1="321.38" x2="365.90" y2="321.38" stroke="#000" stroke-width="1.00"/><line x1="45.50" y1="317.81" x2="50.50" y2="317.81" stroke="#000" stroke-width="1.00"/><line x1="370.90" y1="317.81" x2="365.90" y2="317.81" stroke="#000" stroke-width="1.00"/>
<path d="M44.90,17.50 H371.70" stroke="#000" stroke-width="1.2"/>
<path d="M44.90,317.50 H371.70" stroke="#000" stroke-width="1.15"/>
<path d="M44.90,477.90 H371.70" stroke="#000" stroke-width="1.8"/>
<path d="M45.50,16.90 V478.80" stroke="#000" stroke-width="1.3"/>
<path d="M370.90,16.90 V478.80" stroke="#000" stroke-width="1.6"/>
<rect x="73.90" y="221.30" width="5" height="5" fill="#000"/>
<line x1="64.20" y1="236.70" x2="88.60" y2="236.70" stroke="#b05a00" stroke-width="0.95" stroke-dasharray="2.3,2"/>
<circle cx="76.40" cy="236.70" r="2.5" fill="none" stroke="#b05a00" stroke-width="1.0"/>
<line x1="64.20" y1="249.60" x2="88.60" y2="249.60" stroke="#339900" stroke-width="0.95" stroke-dasharray="2.3,2"/>
<rect x="73.90" y="247.10" width="5" height="5" fill="none" stroke="#339900" stroke-width="1.0"/>
<line x1="64.20" y1="263.00" x2="88.60" y2="263.00" stroke="#0000ff" stroke-width="1.0"/>
<path d="M76.40,260.00 L79.00,265.10 L73.80,265.10 Z" fill="#0000ff"/>
<line x1="64.20" y1="276.10" x2="88.60" y2="276.10" stroke="#ff0000" stroke-width="0.95" stroke-dasharray="1.1,0.95"/>
<path d="M76.40,273.00 L78.50,276.10 L76.40,279.20 L74.30,276.10 Z" fill="#ff0000"/>
<text x="94.2" y="227.10" font-size="9.35">ALICE</text>
<text x="94.2" y="240.00" font-size="9.35">Herwig++ 2.7.1 default</text>
<text x="94.2" y="252.90" font-size="9.35">Herwig 7.2.1 default</text>
<text x="94.2" y="266.30" font-size="9.35">Pythia 8.315 default</text>
<text x="94.2" y="279.40" font-size="9.35">Sherpa 1.4.5 default</text>
<text x="51.2" y="13.8" font-size="12">900 GeV pp</text>
<text x="366.3" y="14" font-size="12.05" text-anchor="end">Soft QCD</text>
<text x="63" y="43.7" font-size="11" letter-spacing="0.445">K<tspan font-size="7.8" dy="-5.4" letter-spacing="0">0</tspan><tspan font-size="7.8" dx="-4.4" dy="8.4">s</tspan><tspan dy="-3" dx="0"> transverse momentum, |y|&lt;0.75,</tspan>&#8730;s=0.9 {TeV} (INEL)</text>
<text x="39.3" y="79.8" font-size="11.6" text-anchor="end">1</text>
<text x="32.6" y="143.60" font-size="11.6" text-anchor="end">10</text>
<text x="33" y="139.80" font-size="7.6">&#8722;1</text>
<text x="32.6" y="207.25" font-size="11.6" text-anchor="end">10</text>
<text x="33" y="203.45" font-size="7.6">&#8722;2</text>
<text x="32.6" y="270.80" font-size="11.6" text-anchor="end">10</text>
<text x="33" y="267.00" font-size="7.6">&#8722;3</text>
<text x="38.3" y="341.1" font-size="11.8" text-anchor="end">2</text>
<text x="38.5" y="401.9" font-size="11.8" text-anchor="end">1</text>
<text x="38.5" y="462.4" font-size="11.8" text-anchor="end">0.5</text>
<text x="373.6" y="341.1" font-size="11.8">2</text>
<text x="373.6" y="402.6" font-size="11.8">1</text>
<text x="373.6" y="462.4" font-size="11.8">0.5</text>
<line x1="255.2" y1="33.9" x2="260.8" y2="33.9" stroke="#000" stroke-width="0.9"/>
<text x="45.50" y="489.3" font-size="11.8" text-anchor="middle">0</text>
<text x="152.10" y="489.3" font-size="11.8" text-anchor="middle">1</text>
<text x="258.70" y="489.3" font-size="11.8" text-anchor="middle">2</text>
<text x="365.30" y="489.3" font-size="11.8" text-anchor="middle">3</text>
<text x="325.4" y="502.2" font-size="12.6">p<tspan font-size="8.4" dy="5.4" dx="0.4">T</tspan><tspan dy="-5.4"> [GeV]</tspan></text>
<text transform="translate(15.00,158.20) rotate(-90)" font-size="12.0">1/N</text>
<text transform="translate(18.60,138.90) rotate(-90)" font-size="8.0">evt</text>
<text transform="translate(15.00,118.40) rotate(-90)" font-size="12.0">d</text>
<text transform="translate(10.40,111.60) rotate(-90)" font-size="8.0">2</text>
<text transform="translate(15.00,111.00) rotate(-90)" font-size="12.0">N/dy</text>
<text transform="translate(15.00,80.20) rotate(-90)" font-size="12.0">dp</text>
<text transform="translate(21.20,69.60) rotate(-90)" font-size="8.0">T</text>
<text transform="translate(15.00,60.40) rotate(-90)" font-size="12.0">[(GeV)</text>
<text transform="translate(10.40,24.20) rotate(-90)" font-size="7.0">-1</text>
<text transform="translate(15.00,19.40) rotate(-90)" font-size="12.0">]</text>
<text transform="translate(17.9,426.4) rotate(-90)" font-size="9.1">Ratio to ALICE</text>
<text transform="translate(379.9,127.2) rotate(-90)" font-size="9.5" fill="#666">Rivet 4.1.0, &#8805; 100k events</text>
<text transform="translate(380.9,313.8) rotate(-90)" font-size="9.45" fill="#666">mcplots.cern.ch [arXiv:2401.10621]</text>
<text x="167.2" y="302.6" font-size="7.9" fill="#999">(ALICE_2011_I881474)</text>
</svg></body></html>
